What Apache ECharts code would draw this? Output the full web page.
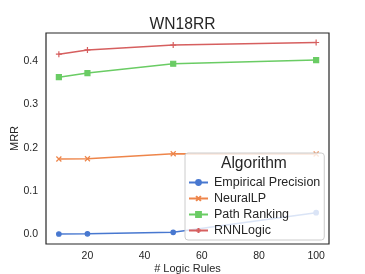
<!DOCTYPE html>
<html><head><meta charset="utf-8">
<script src="https://cdn.jsdelivr.net/npm/echarts@6/dist/echarts.min.js"></script>
<style>html,body{margin:0;padding:0;background:#fff}#c{width:365px;height:274px}</style>
</head><body><div id="c"></div>
<script>
const xValues = [10, 20, 50, 100];
const empiricalPrecision = [0.0007, 0.001, 0.0046, 0.050];
const neuralLP = [0.174, 0.1746, 0.186, 0.1855];
const pathRanking = [0.363, 0.3725, 0.394, 0.4025];
const rnnLogic = [0.416, 0.426, 0.437, 0.443];
const xTicks = [20, 40, 60, 80, 100];
const yTicks = [0.0, 0.1, 0.2, 0.3, 0.4];
const seriesNames = ['Empirical Precision', 'NeuralLP', 'Path Ranking', 'RNNLogic'];

const colors = ['#4878d0', '#ee854a', '#6acc64', '#d65f5f'];
const symbols = ['circle', 'path://M0,0L10,10M10,0L0,10', 'rect', 'path://M5,0L5,10M0,5L10,5'];
const sizes = [4.5, 5, 5, 6];
const dataSets = [empiricalPrecision, neuralLP, pathRanking, rnnLogic];
const font = 'Liberation Sans, Arial, sans-serif';

const chart = echarts.init(document.getElementById('c'), null, {renderer: 'canvas'});
chart.setOption({
  animation: false,
  title: {text: 'WN18RR', left: 'center', top: 12, textStyle: {fontFamily: font, fontSize: 15.6, fontWeight: 'normal', color: '#262626'}},
  grid: {left: 46, right: 36, top: 33, bottom: 30, outerBoundsMode: 'none', containLabel: false,
    show: true, borderColor: '#262626', borderWidth: 1.2},
  xAxis: {
    type: 'value', min: 5.5, max: 104.5,
    name: '# Logic Rules', nameLocation: 'middle', nameGap: 19, nameMoveOverlap: false,
    nameTextStyle: {fontFamily: font, fontSize: 11, color: '#262626'},
    axisLine: {show: false}, axisTick: {show: false}, splitLine: {show: false},
    axisLabel: {customValues: xTicks, fontFamily: font, fontSize: 10.5, color: '#262626', margin: 7}
  },
  yAxis: {
    type: 'value', min: -0.0224, max: 0.465,
    name: 'MRR', nameLocation: 'middle', nameGap: 26, nameMoveOverlap: false,
    nameTextStyle: {fontFamily: font, fontSize: 11, color: '#262626'},
    axisLine: {show: false}, axisTick: {show: false}, splitLine: {show: false},
    axisLabel: {customValues: yTicks, fontFamily: font, fontSize: 10.5, color: '#262626', margin: 8,
      formatter: v => v.toFixed(1)}
  },
  legend: {
    left: 185, top: 153, orient: 'vertical',
    padding: [23, 4, 3, 3], itemGap: 3, itemWidth: 19, itemHeight: 6,
    backgroundColor: 'rgba(255,255,255,0.8)', borderColor: '#cccccc', borderWidth: 1, borderRadius: 3,
    textStyle: {fontFamily: font, fontSize: 12.5, color: '#262626', padding: [0, 0, 0, 1]},
    data: seriesNames
  },
  graphic: [{type: 'text', left: 221, top: 156, z: 100,
    style: {text: 'Algorithm', font: '15.6px ' + font, fill: '#262626'}}],
  series: seriesNames.map((n, i) => ({
    name: n, type: 'line', z: 2,
    data: xValues.map((x, j) => [x, dataSets[i][j]]),
    symbol: symbols[i], symbolSize: sizes[i],
    lineStyle: {color: colors[i], width: 1.5},
    itemStyle: {color: colors[i], borderColor: colors[i], borderWidth: 1.2}
  }))
});
</script></body></html>
